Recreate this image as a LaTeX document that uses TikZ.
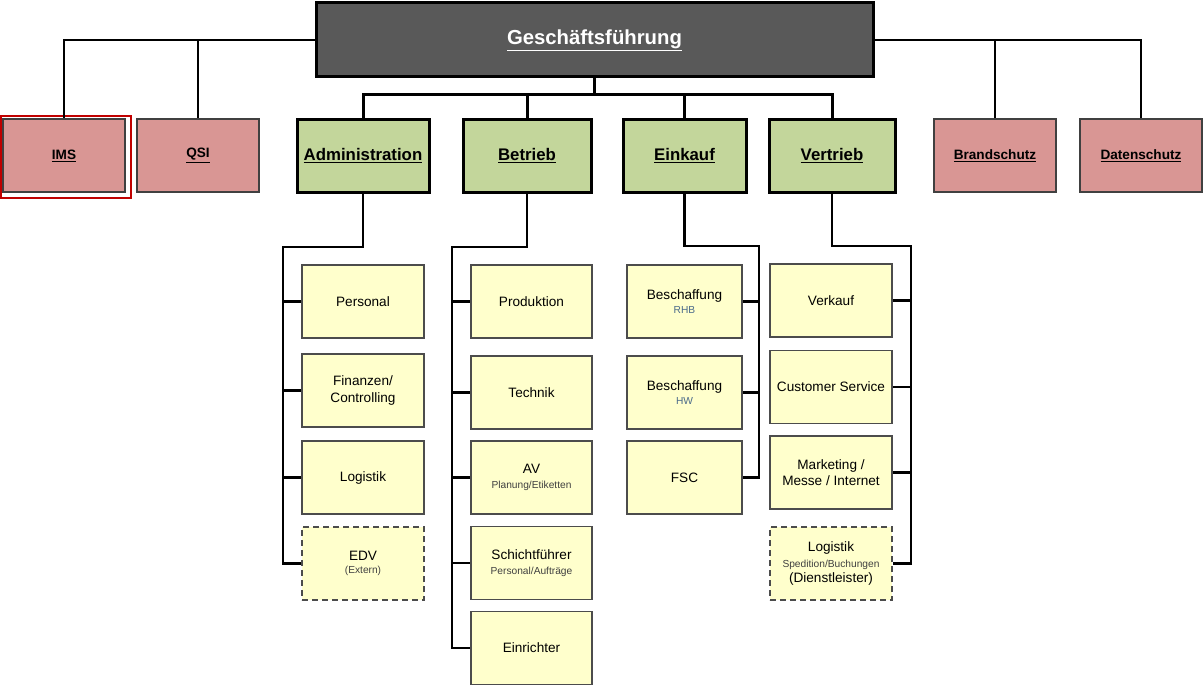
\documentclass[tikz,border=0pt]{standalone}
\usepackage{fontspec}
\setmainfont{Liberation Sans}
\definecolor{gfgray}{HTML}{595959}
\definecolor{pinkc}{HTML}{D99694}
\definecolor{greenc}{HTML}{C3D69B}
\definecolor{yellowc}{HTML}{FFFFCC}
\definecolor{framered}{HTML}{C00000}
\definecolor{subgray}{HTML}{404040}
\definecolor{subblue}{HTML}{4A6A8A}
\newcommand{\smalltxt}[1]{{\fontsize{10.2}{12}\selectfont #1}}
\begin{document}
\begin{tikzpicture}[x=1pt,y=-1pt,
  gfbox/.style={draw=black, line width=3pt, fill=gfgray, minimum width=557pt, minimum height=74pt, text=white, font=\fontsize{20.3}{24}\selectfont\bfseries},
  pinkbox/.style={draw=black!75, line width=1.2pt, fill=pinkc, minimum width=122pt, minimum height=73pt, inner sep=2pt, font=\fontsize{13.6}{16}\selectfont\bfseries},
  greenbox/.style={draw=black, line width=3pt, fill=greenc, minimum height=73pt, inner sep=2pt, font=\fontsize{16.8}{20}\selectfont\bfseries},
  subbox/.style={draw=black!70, line width=1.3pt, fill=yellowc, minimum height=73pt, inner sep=2pt, align=center, font=\fontsize{13.6}{16.5}\selectfont},
  extbox/.style={subbox, dash pattern=on 6pt off 4pt},
  topline/.style={line width=2pt},
  mainline/.style={line width=3pt},
  subline/.style={line width=2.5pt}
]
\useasboundingbox (0,0) rectangle (1203,685);

% top
\node[gfbox] (gf) at (594.5,40) {\underline{Geschäftsführung}};

% staff units
\node[pinkbox] (ims) at (64,155.5) {\underline{IMS}};
\node[pinkbox] (qsi) at (198,155.5) {\underline{QSI}};
\node[pinkbox] (brand) at (995,155.5) {\underline{Brandschutz}};
\node[pinkbox] (daten) at (1141,155.5) {\underline{Datenschutz}};
\draw[framered, line width=2pt] (1,116) rectangle (131,198);

% departments
\node[greenbox, minimum width=132pt] (admin) at (363,155.5) {\underline{Administration}};
\node[greenbox, minimum width=128pt] (betrieb) at (527,155.5) {\underline{Betrieb}};
\node[greenbox, minimum width=123pt] (einkauf) at (684.5,155.5) {\underline{Einkauf}};
\node[greenbox, minimum width=126pt] (vertrieb) at (832,155.5) {\underline{Vertrieb}};

% Administration column
\node[subbox, minimum width=122pt] (personal) at (363,301.5) {Personal};
\node[subbox, minimum width=122pt] (finanzen) at (363,390.5) {Finanzen/\\Controlling};
\node[subbox, minimum width=122pt] (logistik) at (363,477.5) {Logistik};
\node[extbox, minimum width=122pt] (edv) at (363,563.5) {EDV\\[-3pt]\smalltxt{\textcolor{subgray}{(Extern)}}};

% Betrieb column
\node[subbox, minimum width=121pt] (produktion) at (531.5,301.5) {Produktion};
\node[subbox, minimum width=121pt] (technik) at (531.5,392.5) {Technik};
\node[subbox, minimum width=121pt] (av) at (531.5,477.5) {AV\\[-2pt]\smalltxt{\textcolor{subgray}{Planung/Etiketten}}};
\node[subbox, minimum width=121pt] (schicht) at (531.5,563) {Schichtführer\\[-2pt]\smalltxt{\textcolor{subgray}{Personal/Aufträge}}};
\node[subbox, minimum width=121pt] (einrichter) at (531.5,648) {Einrichter};

% Einkauf column
\node[subbox, minimum width=115pt] (rhb) at (684.5,301.5) {Beschaffung\\[-2pt]\smalltxt{\textcolor{subblue}{RHB}}};
\node[subbox, minimum width=115pt] (hw) at (684.5,392.5) {Beschaffung\\[-2pt]\smalltxt{\textcolor{subblue}{HW}}};
\node[subbox, minimum width=115pt] (fsc) at (684.5,477.5) {FSC};

% Vertrieb column
\node[subbox, minimum width=122pt] (verkauf) at (831,300.5) {Verkauf};
\node[subbox, minimum width=122pt] (cs) at (831,387) {Customer Service};
\node[subbox, minimum width=122pt] (marketing) at (831,472.5) {Marketing /\\Messe / Internet};
\node[extbox, minimum width=122pt] (logext) at (831,563.5) {Logistik\\[-1pt]\smalltxt{\textcolor{subgray}{Spedition/Buchungen}}\\[-1pt](Dienstleister)};

% connectors: top level
\draw[topline] (gf.west) -| (ims.north);
\draw[topline] (gf.west) -| (qsi.north);
\draw[topline] (gf.east) -| (brand.north);
\draw[topline] (gf.east) -| (daten.north);

\coordinate (gbar) at (594.5,95);
\draw[mainline] (gf.south) -- (gbar);
\draw[mainline] (gbar) -| (admin.north);
\draw[mainline] (gbar) -| (betrieb.north);
\draw[mainline] (gbar) -| (einkauf.north);
\draw[mainline] (gbar) -| (vertrieb.north);

% Administration branch
\coordinate (ab) at (283,247);
\draw[subline] (admin.south) |- (ab) -- (ab |- edv.west) -- (edv.west);
\draw[subline] (ab |- personal.west) -- (personal.west);
\draw[subline] (ab |- finanzen.west) -- (finanzen.west);
\draw[subline] (ab |- logistik.west) -- (logistik.west);

% Betrieb branch
\coordinate (bb) at (452,247);
\draw[subline] (betrieb.south) |- (bb) -- (bb |- einrichter.west) -- (einrichter.west);
\draw[subline] (bb |- produktion.west) -- (produktion.west);
\draw[subline] (bb |- technik.west) -- (technik.west);
\draw[subline] (bb |- av.west) -- (av.west);
\draw[subline] (bb |- schicht.west) -- (schicht.west);

% Einkauf branch
\coordinate (eb) at (759,246);
\draw[subline] (einkauf.south) |- (eb) -- (eb |- fsc.east) -- (fsc.east);
\draw[subline] (eb |- rhb.east) -- (rhb.east);
\draw[subline] (eb |- hw.east) -- (hw.east);

% Vertrieb branch
\coordinate (vb) at (911,246);
\draw[subline] (vertrieb.south) |- (vb) -- (vb |- logext.east) -- (logext.east);
\draw[subline] (vb |- verkauf.east) -- (verkauf.east);
\draw[subline] (vb |- cs.east) -- (cs.east);
\draw[subline] (vb |- marketing.east) -- (marketing.east);
\end{tikzpicture}
\end{document}
